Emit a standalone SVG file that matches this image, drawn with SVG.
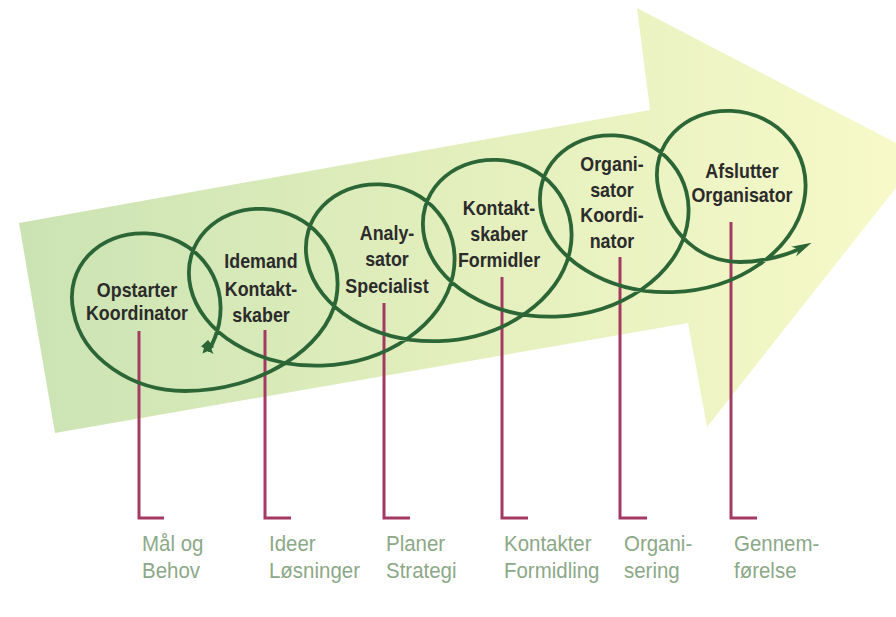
<svg xmlns="http://www.w3.org/2000/svg" width="896" height="617" viewBox="0 0 896 617">
<defs>
<linearGradient id="bodyGrad" gradientUnits="userSpaceOnUse" x1="20" y1="0" x2="900" y2="0">
<stop offset="0" stop-color="#cbe3b3"/>
<stop offset="0.5" stop-color="#e3efbd"/>
<stop offset="1" stop-color="#f7f9c9"/>
</linearGradient>
<marker id="head" markerUnits="userSpaceOnUse" markerWidth="20" markerHeight="14" viewBox="0 0 20 14" refX="6" refY="7" orient="auto">
<path d="M0,1.5 L20,7 L0,12.5 L6,7 Z" fill="#2c6636"/>
</marker>
<style>
.nt{font-family:"Liberation Sans",Arial,sans-serif;font-weight:bold;font-size:21px;fill:#2b2b2b;text-anchor:middle}
.bl{font-family:"Liberation Sans",Arial,sans-serif;font-size:22px;fill:#8ca888}
.lead{fill:none;stroke:#a33a64;stroke-width:3;stroke-linejoin:miter}
.coil{fill:none;stroke:#2c6636;stroke-width:3.8;stroke-linecap:round}
</style>
</defs>
<rect width="896" height="617" fill="#ffffff"/>
<polygon id="big-arrow" points="19,223 650,110 637,8 921,156 707,427 688,323 55,433" fill="url(#bodyGrad)"/>

<g id="leaders">
<path class="lead" d="M139,331 V518 H164"/>
<path class="lead" d="M265,330 V518 H291"/>
<path class="lead" d="M384,303 V518 H410"/>
<path class="lead" d="M502,277 V518 H528"/>
<path class="lead" d="M620,257 V518 H647"/>
<path class="lead" d="M731,222 V518 H757"/>
</g>

<g id="connectors">
<path class="coil" marker-end="url(#head)" d="M209,350 C213.9,341.5 217.1,332.8 219,324 C228.75,275.29 192.83,235.42 146.25,233.38 C99.67,231.34 63.75,267.12 73.5,311.75 C82,358 132,391 185,391 C260,391 326,348 336,299.5 C345.75,250.79 309.83,210.92 263.25,208.88 C216.67,206.84 180.75,242.62 190.5,287.25 C200.25,331.88 255.67,367.67 321.75,365.63 C387.83,363.59 443.25,323.71 453,275 C462.75,226.29 426.83,186.42 380.25,184.38 C333.67,182.34 297.75,218.12 307.5,262.75 C317.25,307.38 372.67,343.17 438.75,341.13 C504.83,339.09 560.25,299.21 570,250.5 C579.75,201.79 543.83,161.92 497.25,159.88 C450.67,157.84 414.75,193.62 424.5,238.25 C434.25,282.88 489.67,318.67 555.75,316.63 C621.83,314.59 677.25,274.71 687,226 C696.75,177.29 660.83,137.42 614.25,135.38 C567.67,133.34 531.75,169.12 541.5,213.75 C551.25,258.38 606.67,294.17 672.75,292.13 C738.83,290.09 794.25,250.21 804,201.5 C813.75,152.79 777.83,112.92 731.25,110.88 C684.67,108.84 648.75,144.62 658.5,189.25 C668.25,233.88 700,262 740,262 C765,262 789,254 799,249"/>
<path id="tail" d="M208,340 L214,347 L211,348.5 L213.5,354 L208,351 L202.5,353.5 L204,348 L201,346.5 Z" fill="#2c6636"/>
</g>

<g id="n1"><text class="nt" transform="translate(137 0) scale(0.85 1)"><tspan x="0" y="296.7">Opstarter</tspan><tspan x="0" y="320.5">Koordinator</tspan></text></g>
<g id="n2"><text class="nt" transform="translate(261 0) scale(0.85 1)"><tspan x="0" y="268">Idemand</tspan><tspan x="0" y="296">Kontakt-</tspan><tspan x="0" y="322">skaber</tspan></text></g>
<g id="n3"><text class="nt" transform="translate(387 0) scale(0.85 1)"><tspan x="0" y="240">Analy-</tspan><tspan x="0" y="266.5">sator</tspan><tspan x="0" y="293">Specialist</tspan></text></g>
<g id="n4"><text class="nt" transform="translate(499 0) scale(0.85 1)"><tspan x="0" y="215">Kontakt-</tspan><tspan x="0" y="241.5">skaber</tspan><tspan x="0" y="267.5">Formidler</tspan></text></g>
<g id="n5"><text class="nt" transform="translate(612 0) scale(0.85 1)"><tspan x="0" y="171">Organi-</tspan><tspan x="0" y="197">sator</tspan><tspan x="0" y="222">Koordi-</tspan><tspan x="0" y="248">nator</tspan></text></g>
<g id="n6"><text class="nt" transform="translate(742 0) scale(0.85 1)"><tspan x="0" y="178.5">Afslutter</tspan><tspan x="0" y="202">Organisator</tspan></text></g>

<g id="l1"><text class="bl" transform="translate(142 0) scale(0.93 1)"><tspan x="0" y="551">Mål og</tspan><tspan x="0" y="578">Behov</tspan></text></g>
<g id="l2"><text class="bl" transform="translate(269 0) scale(0.93 1)"><tspan x="0" y="551">Ideer</tspan><tspan x="0" y="578">Løsninger</tspan></text></g>
<g id="l3"><text class="bl" transform="translate(386 0) scale(0.93 1)"><tspan x="0" y="551">Planer</tspan><tspan x="0" y="578">Strategi</tspan></text></g>
<g id="l4"><text class="bl" transform="translate(504 0) scale(0.93 1)"><tspan x="0" y="551">Kontakter</tspan><tspan x="0" y="578">Formidling</tspan></text></g>
<g id="l5"><text class="bl" transform="translate(624 0) scale(0.93 1)"><tspan x="0" y="551">Organi-</tspan><tspan x="0" y="578">sering</tspan></text></g>
<g id="l6"><text class="bl" transform="translate(734 0) scale(0.93 1)"><tspan x="0" y="551">Gennem-</tspan><tspan x="0" y="578">førelse</tspan></text></g>
</svg>
